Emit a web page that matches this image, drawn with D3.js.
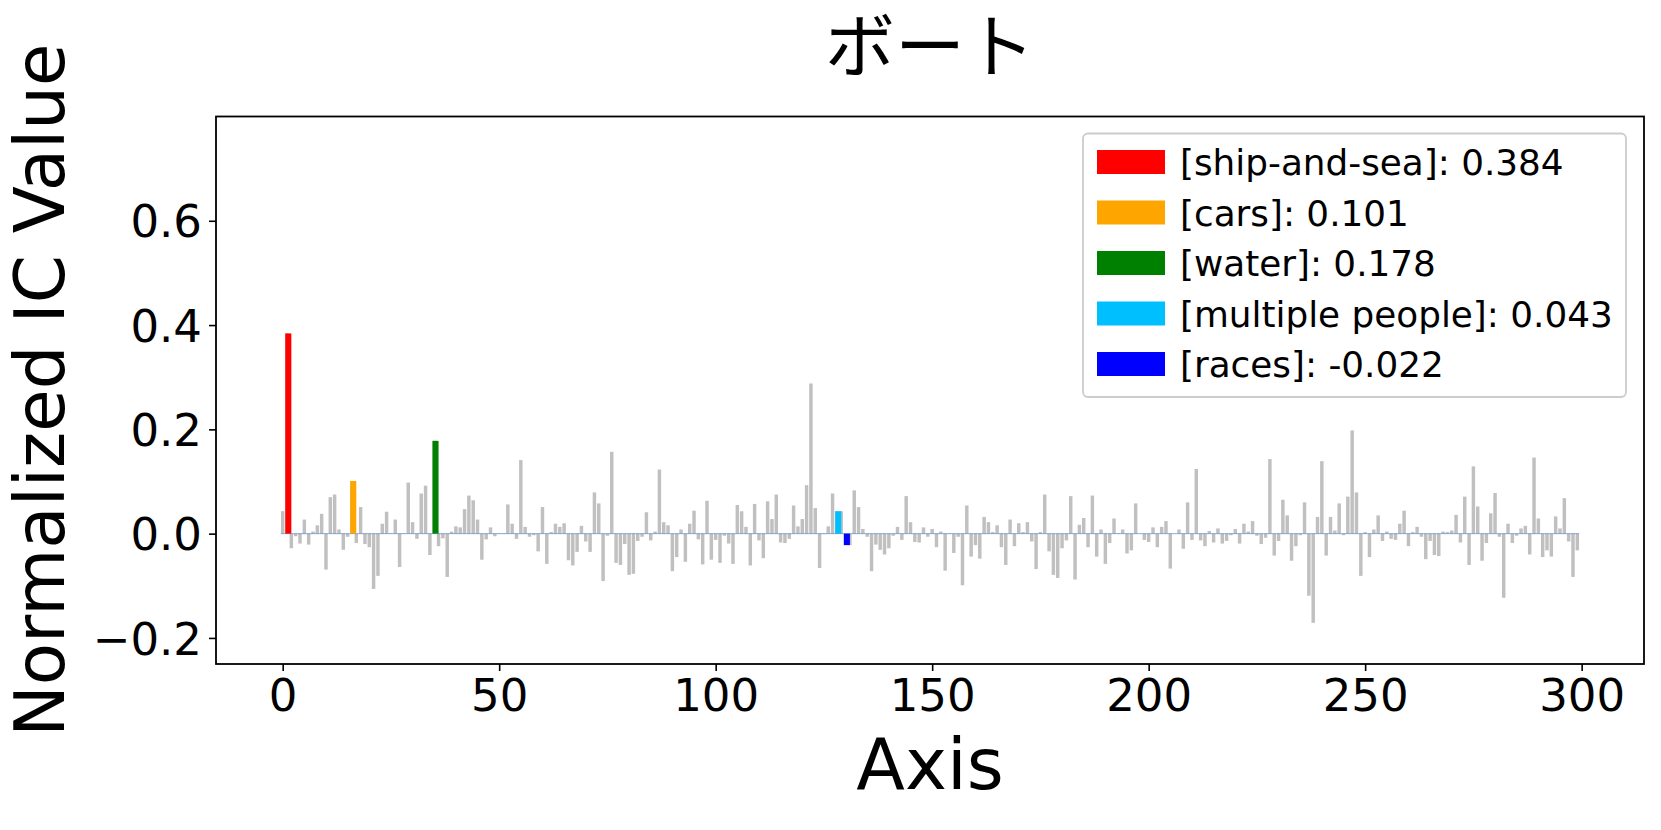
<!DOCTYPE html>
<html>
<head>
<meta charset="utf-8">
<script src="https://cdn.jsdelivr.net/npm/d3@7"></script>
<style>
	body { margin: 0; background: #fff; }
	svg text { font-family: "DejaVu Sans", sans-serif; fill: #000; }
	.title { font-family: "Noto Sans CJK JP", "DejaVu Sans", sans-serif; }
</style>
</head>
<body>
<svg id="chart" width="1661" height="830"></svg>
<script>
// chart values
let title = 'ボート';
let xLabel = 'Axis';
let yLabel = 'Normalized IC Value';
let xTicks = [0, 50, 100, 150, 200, 250, 300];
let yTicks = [-0.2, 0.0, 0.2, 0.4, 0.6];

// one value per axis, 0..299
let values = [
	0.043, 0.384, -0.028, -0.005, -0.019, 0.027, -0.021, 0.004, 0.016, 0.038,
	-0.069, 0.070, 0.075, 0.008, -0.031, -0.006, 0.101, -0.018, 0.051, -0.020,
	-0.026, -0.106, -0.081, 0.019, 0.042, 0.001, 0.027, -0.064, 0.001, 0.098,
	0.022, -0.010, 0.077, 0.092, -0.041, 0.178, -0.024, -0.009, -0.083, 0.004,
	0.014, 0.012, 0.047, 0.073, 0.064, 0.027, -0.050, -0.011, 0.012, -0.005,
	0.001, 0.001, 0.056, 0.019, -0.010, 0.141, 0.013, -0.006, -0.003, -0.034,
	0.051, -0.058, 0.003, 0.019, 0.013, 0.020, -0.051, -0.061, -0.035, 0.015,
	-0.015, -0.035, 0.079, 0.058, -0.091, -0.004, 0.157, -0.056, -0.060, -0.020,
	-0.079, -0.077, -0.014, -0.006, 0.041, -0.013, 0.004, 0.123, 0.022, 0.016,
	-0.072, -0.045, 0.008, -0.054, 0.019, 0.044, -0.011, -0.059, 0.063, -0.050,
	-0.012, -0.056, -0.004, -0.019, -0.058, 0.055, 0.043, 0.013, -0.061, 0.057,
	-0.013, -0.047, 0.062, 0.028, 0.075, -0.017, -0.018, -0.010, 0.054, 0.014,
	0.028, 0.093, 0.288, 0.049, -0.066, -0.001, 0.014, 0.077, 0.043, 0.043,
	-0.022, -0.022, 0.083, 0.051, 0.009, -0.006, -0.072, -0.021, -0.031, -0.040,
	-0.028, -0.004, 0.013, -0.012, 0.072, 0.022, -0.016, -0.017, 0.012, -0.006,
	0.009, -0.026, 0.004, -0.071, 0.001, -0.037, -0.006, -0.099, 0.054, -0.044,
	-0.022, -0.048, 0.032, 0.022, 0.003, 0.016, -0.026, -0.060, 0.027, -0.024,
	0.020, 0.003, 0.022, -0.015, -0.068, 0.003, 0.075, -0.034, -0.079, -0.085,
	-0.028, -0.013, 0.072, -0.088, 0.017, 0.030, -0.026, 0.073, -0.044, 0.008,
	-0.058, -0.018, 0.029, 0.001, 0.008, -0.038, -0.032, 0.058, 0.000, -0.012,
	-0.016, 0.012, -0.026, 0.013, 0.024, -0.067, 0.000, 0.008, -0.029, 0.060,
	-0.012, 0.124, -0.013, -0.024, 0.005, -0.017, 0.010, -0.019, -0.014, -0.003,
	0.009, -0.019, 0.019, 0.004, 0.024, -0.004, -0.020, -0.008, 0.143, -0.042,
	-0.014, 0.065, 0.035, -0.052, -0.024, -0.003, 0.060, -0.119, -0.171, 0.032,
	0.139, -0.042, 0.032, 0.006, 0.058, -0.003, 0.071, 0.198, 0.079, -0.081,
	0.003, -0.045, 0.008, 0.035, -0.014, 0.004, -0.010, -0.012, 0.019, 0.044,
	-0.024, 0.003, 0.013, -0.006, -0.049, -0.014, -0.041, -0.043, 0.004, 0.003,
	0.006, 0.036, -0.017, 0.071, -0.060, 0.129, 0.052, -0.052, -0.018, 0.039,
	0.078, -0.006, -0.123, 0.019, -0.018, -0.004, 0.010, 0.015, -0.040, 0.146,
	0.029, -0.045, -0.032, -0.044, 0.033, 0.010, 0.068, -0.015, -0.083, -0.032
];

// highlighted concepts
let conceptNames = ['ship-and-sea', 'cars', 'water', 'multiple people', 'races'];
let conceptIndex = [1, 16, 35, 128, 130];
let conceptValues = [0.384, 0.101, 0.178, 0.043, -0.022];
let conceptColors = ['#ff0000', '#ffa500', '#008000', '#00bfff', '#0000ff'];

let margin = { top: 116.5, right: 17, bottom: 166, left: 216 };
let W = 1661, H = 830;
let width = W - margin.left - margin.right;
let height = H - margin.top - margin.bottom;

let svg = d3.select('svg#chart');
let g = svg.append('g').attr('transform', 'translate(' + margin.left + ',' + margin.top + ')');

let x = d3.scaleLinear([-15.4, 314.4], [0, width]);
let y = d3.scaleLinear([-0.25, 0.8], [height, 0]);
let barW = 0.8;

// grey bars
g.append('g').attr('class', 'bars').selectAll('rect')
	.data(values)
	.join('rect')
	.attr('x', (d, i) => x(i - barW / 2))
	.attr('width', x(barW) - x(0))
	.attr('y', d => y(Math.max(0, d)))
	.attr('height', d => Math.abs(y(d) - y(0)))
	.attr('fill', '#c0c0c0');

// zero line across the bars
g.append('line')
	.attr('x1', x(-0.4)).attr('x2', x(values.length - 0.6))
	.attr('y1', y(0)).attr('y2', y(0))
	.attr('stroke', '#4a78c0').attr('stroke-opacity', 0.6).attr('stroke-width', 1);

// coloured bars
let concepts = conceptNames.map((n, i) => ({
	name: n, index: conceptIndex[i], value: conceptValues[i], color: conceptColors[i]
}));
g.append('g').attr('class', 'concepts').selectAll('rect')
	.data(concepts)
	.join('rect')
	.attr('x', d => x(d.index - 0.4))
	.attr('width', x(1.4) - x(0))
	.attr('y', d => y(Math.max(0, d.value)))
	.attr('height', d => Math.abs(y(d.value) - y(0)))
	.attr('fill', d => d.color);

// axes
let xAxis = g.append('g')
	.attr('transform', 'translate(0,' + height + ')')
	.call(d3.axisBottom(x).tickValues(xTicks).tickSize(7).tickPadding(8).tickFormat(d3.format('d')));
let yAxis = g.append('g')
	.call(d3.axisLeft(y).tickValues(yTicks).tickSize(7).tickPadding(7).tickFormat(d3.format('.1f')));
[xAxis, yAxis].forEach(function (a) {
	a.select('.domain').remove();
	a.selectAll('.tick line').attr('stroke', '#000').attr('stroke-width', 1.6);
	a.selectAll('.tick text').style('font-size', '45px').attr('fill', '#000');
});
xAxis.selectAll('.tick text').attr('dy', '0.71em');
yAxis.selectAll('.tick text').attr('dy', '0.36em');

// frame
g.append('rect')
	.attr('width', width).attr('height', height)
	.attr('fill', 'none').attr('stroke', '#000').attr('stroke-width', 1.8);

// labels
svg.append('text').attr('class', 'title')
	.attr('x', margin.left + width / 2).attr('y', 72)
	.attr('text-anchor', 'middle').style('font-size', '70px')
	.text(title);
svg.append('text')
	.attr('x', margin.left + width / 2).attr('y', 789)
	.attr('text-anchor', 'middle').style('font-size', '71px')
	.text(xLabel);
svg.append('text')
	.attr('transform', 'translate(64,' + (margin.top + height / 2) + ') rotate(-90)')
	.attr('text-anchor', 'middle').style('font-size', '69px')
	.text(yLabel);

// legend
let legend = svg.append('g').attr('class', 'legend');
legend.append('rect')
	.attr('x', 1083).attr('y', 133.5).attr('width', 543).attr('height', 263.5)
	.attr('rx', 5).attr('fill', '#fff').attr('fill-opacity', 0.8)
	.attr('stroke', '#cccccc').attr('stroke-width', 1.8);
let rows = legend.selectAll('g.row')
	.data(concepts)
	.join('g')
	.attr('class', 'row')
	.attr('transform', (d, i) => 'translate(0,' + (162 + i * 50.5) + ')');
rows.append('rect')
	.attr('x', 1097).attr('y', -12).attr('width', 68).attr('height', 24)
	.attr('fill', d => d.color);
rows.append('text')
	.attr('x', 1180).attr('y', 13)
	.style('font-size', '35.8px')
	.text(d => '[' + d.name + ']: ' + d3.format('.3f')(d.value).replace('−', '-'));
</script>
</body>
</html>
